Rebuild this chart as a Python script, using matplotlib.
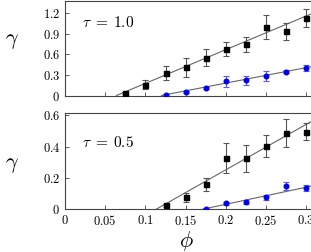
import numpy as np
import matplotlib
matplotlib.use('Agg')
import matplotlib.pyplot as plt

plt.rcParams['mathtext.fontset'] = 'cm'
plt.rcParams['font.family'] = 'serif'
plt.rcParams['font.serif'] = ['DejaVu Serif']

# tau = 1.0 panel
phi_top_black = [0.075, 0.1, 0.125, 0.15, 0.175, 0.2, 0.225, 0.25, 0.275, 0.3]
gam_top_black = [0.035, 0.16, 0.33, 0.41, 0.555, 0.68, 0.75, 1.0, 0.94, 1.13]
err_top_black = [0.02, 0.063, 0.1, 0.14, 0.12, 0.1, 0.11, 0.17, 0.127, 0.13]
phi_top_blue = [0.125, 0.15, 0.175, 0.2, 0.225, 0.25, 0.275, 0.3]
gam_top_blue = [0.01, 0.05, 0.108, 0.205, 0.22, 0.29, 0.35, 0.405]
err_top_blue = [0.015, 0.015, 0.018, 0.08, 0.065, 0.075, 0.02, 0.045]
fit_top_black = [0.064, 0.3075], [0.0, 1.2]
fit_top_blue = [0.12, 0.3075], [0.0, 0.425]

# tau = 0.5 panel
phi_bot_black = [0.125, 0.15, 0.175, 0.2, 0.225, 0.25, 0.275, 0.3]
gam_bot_black = [0.026, 0.077, 0.16, 0.326, 0.326, 0.406, 0.49, 0.496]
err_bot_black = [0.01, 0.028, 0.04, 0.095, 0.085, 0.072, 0.09, 0.053]
phi_bot_blue = [0.175, 0.2, 0.225, 0.25, 0.275, 0.3]
gam_bot_blue = [0.004, 0.038, 0.049, 0.077, 0.147, 0.138]
err_bot_blue = [0.008, 0.012, 0.012, 0.015, 0.025, 0.021]
fit_bot_black = [0.113, 0.3075], [0.0, 0.565]
fit_bot_blue = [0.17, 0.3075], [0.0, 0.15]

fig = plt.figure(figsize=(3.11, 2.52), dpi=100)
ax1 = fig.add_axes([0.209, 0.621, 0.795, 0.376])
ax2 = fig.add_axes([0.209, 0.169, 0.795, 0.381])

spine_col = '#444444'


def draw_panel(ax, pb, gb, eb, pu, gu, eu, fb, fu):
    ax.plot(fb[0], fb[1], color='#666666', lw=0.8, zorder=1)
    ax.plot(fu[0], fu[1], color='#666666', lw=0.8, zorder=1)
    ax.errorbar(pb, gb, yerr=eb, fmt='s', color='black', ms=3.6,
                ecolor='#555555', elinewidth=0.8, capsize=2, capthick=0.8, zorder=3)
    ax.errorbar(pu, gu, yerr=eu, fmt='o', color='#0000ee', ms=3.3,
                ecolor='#5a5aff', elinewidth=0.8, capsize=2, capthick=0.8, zorder=3)
    ax.tick_params(direction='in', length=3, width=0.6, colors=spine_col,
                   labelcolor='black', labelsize=9)
    for s in ax.spines.values():
        s.set_color(spine_col)
        s.set_linewidth(0.8)


draw_panel(ax1, phi_top_black, gam_top_black, err_top_black,
           phi_top_blue, gam_top_blue, err_top_blue, fit_top_black, fit_top_blue)
draw_panel(ax2, phi_bot_black, gam_bot_black, err_bot_black,
           phi_bot_blue, gam_bot_blue, err_bot_blue, fit_bot_black, fit_bot_blue)

for ax in (ax1, ax2):
    ax.set_xlim(0, 0.3075)
    ax.set_xticks([0, 0.05, 0.1, 0.15, 0.2, 0.25, 0.3])

ax1.set_ylim(0, 1.385)
ax1.set_yticks([0, 0.3, 0.6, 0.9, 1.2])
ax1.set_yticklabels(['$0$', '$0.3$', '$0.6$', '$0.9$', '$1.2$'])
ax1.set_xticklabels([])

ax2.set_ylim(0, 0.613)
ax2.set_yticks([0, 0.2, 0.4, 0.6])
ax2.set_yticklabels(['$0$', '$0.2$', '$0.4$', '$0.6$'])
ax2.set_xticklabels(['$0$', '$0.05$', '$0.1$', '$0.15$', '$0.2$', '$0.25$', '$0.3$'])

ax1.text(0.07, 0.72, r'$\tau\;=\;1.0$', transform=ax1.transAxes, fontsize=11)
ax2.text(0.07, 0.65, r'$\tau\;=\;0.5$', transform=ax2.transAxes, fontsize=11)

fig.text(0.04, 0.84, r'$\gamma$', fontsize=16, ha='center', va='center')
fig.text(0.04, 0.35, r'$\gamma$', fontsize=16, ha='center', va='center')
fig.text(0.60, 0.045, r'$\phi$', fontsize=16, ha='center', va='center')

fig.savefig('out.png', dpi=100)
